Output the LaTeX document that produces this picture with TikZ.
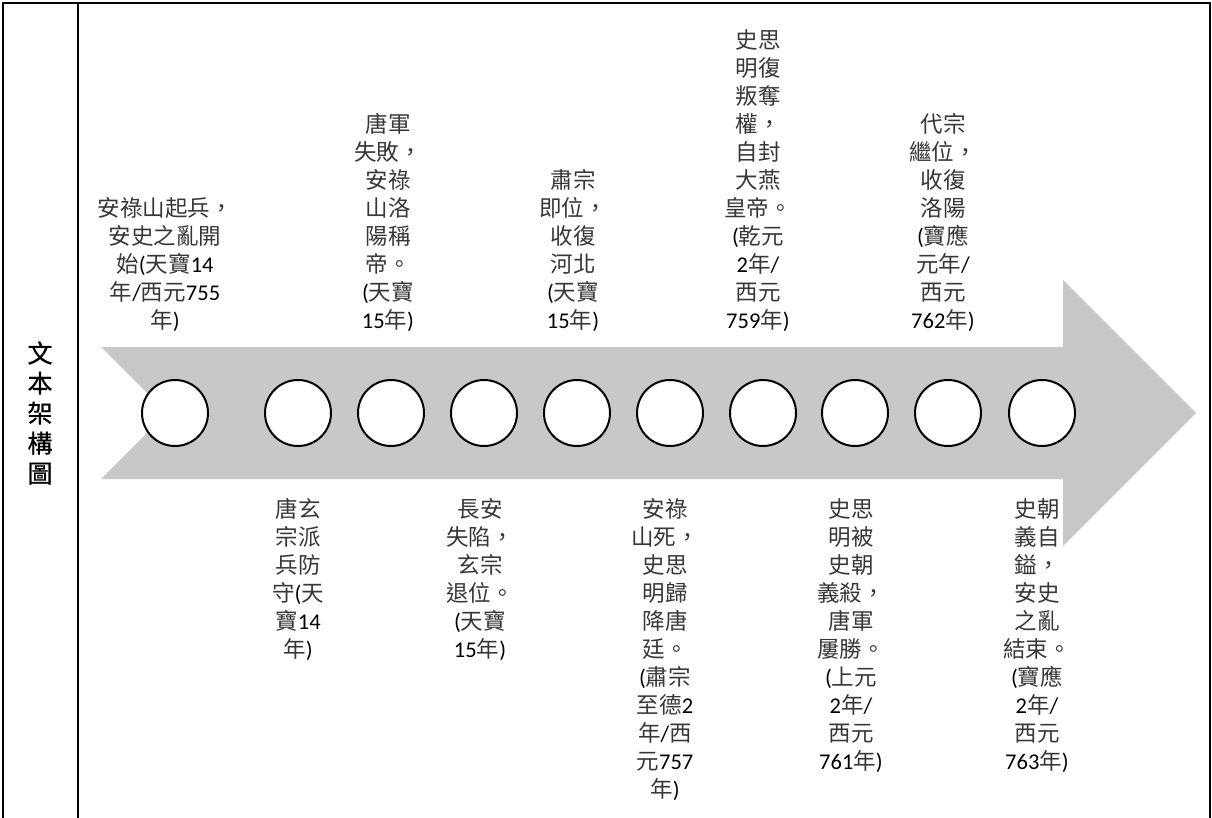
\documentclass[tikz,border=0pt]{standalone}
\usepackage{fontspec}
\setmainfont{Noto Sans CJK TC}
\newfontfamily\latf{Carlito}
\newfontfamily\ttlf[FakeBold=0.8]{Noto Sans CJK TC}
\newcommand\la[1]{{\latf\color{black} #1}}
\definecolor{agray}{RGB}{200,200,200}
\definecolor{txtgray}{RGB}{55,55,55}
\begin{document}
\begin{tikzpicture}[x=1pt,y=-1pt,
  lbl/.style={align=center, inner sep=0pt, font=\fontsize{22.5}{28}\selectfont, text=txtgray},
  dot/.style={circle, draw=black, fill=white, line width=2pt, minimum size=66pt, inner sep=0pt},
  frame/.style={line width=2pt, draw=black},
  title/.style={align=center, inner sep=0pt, font=\ttlf\fontsize{25}{30}\selectfont}]
\useasboundingbox (0,0) rectangle (1212,818);
% frame
\draw[frame] (3,818) -- (3,3) -- (1210,3) -- (1210,818);
\draw[frame] (78,3) -- (78,818);
\node[title] (ttl) at (40,413) {文\\本\\架\\構\\圖};
% arrow
\fill[agray] (101,347) -- (1063,347) -- (1063,280) -- (1196,413) -- (1063,546) -- (1063,479) -- (101,479) -- (167,413) -- cycle;
% circles
\foreach \i/\x in {1/175,2/298,3/391,4/484,5/577,6/670,7/763,8/855,9/948,10/1042}
  \node[dot] (c\i) at (\x,413) {};
% top labels
\node[lbl, anchor=south] (t1) at (165,332) {安祿山起兵，\\安史之亂開\\始\la{(}天寶\la{14}\\年\la{/}西元\la{755}\\年\la{)}};
\node[lbl, anchor=south] (t2) at (388,332) {唐軍\\失敗，\\安祿\\山洛\\陽稱\\帝。\\\la{(}天寶\\\la{15}年\la{)}};
\node[lbl, anchor=south] (t3) at (573,332) {肅宗\\即位，\\收復\\河北\\\la{(}天寶\\\la{15}年\la{)}};
\node[lbl, anchor=south] (t4) at (758,332) {史思\\明復\\叛奪\\權，\\自封\\大燕\\皇帝。\\\la{(}乾元\\\la{2}年\la{/}\\西元\\\la{759}年\la{)}};
\node[lbl, anchor=south] (t5) at (943,332) {代宗\\繼位，\\收復\\洛陽\\\la{(}寶應\\元年\la{/}\\西元\\\la{762}年\la{)}};
% bottom labels
\node[lbl, anchor=north] (b1) at (298,498) {唐玄\\宗派\\兵防\\守\la{(}天\\寶\la{14}\\年\la{)}};
\node[lbl, anchor=north] (b2) at (480,498) {長安\\失陷，\\玄宗\\退位。\\\la{(}天寶\\\la{15}年\la{)}};
\node[lbl, anchor=north] (b3) at (665,498) {安祿\\山死，\\史思\\明歸\\降唐\\廷。\\\la{(}肅宗\\至德\la{2}\\年\la{/}西\\元\la{757}\\年\la{)}};
\node[lbl, anchor=north] (b4) at (851,498) {史思\\明被\\史朝\\義殺，\\唐軍\\屢勝。\\\la{(}上元\\\la{2}年\la{/}\\西元\\\la{761}年\la{)}};
\node[lbl, anchor=north] (b5) at (1037,498) {史朝\\義自\\鎰，\\安史\\之亂\\結束。\\\la{(}寶應\\\la{2}年\la{/}\\西元\\\la{763}年\la{)}};
\end{tikzpicture}
\end{document}
